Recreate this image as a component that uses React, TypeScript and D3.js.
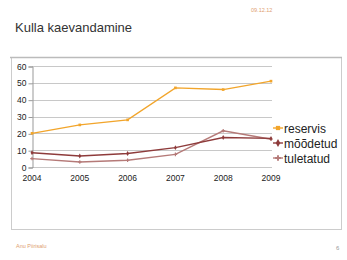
import React, { useEffect, useRef } from "react";
import * as d3 from "d3";

const years = ["2004", "2005", "2006", "2007", "2008", "2009"];
const reservis = [20, 25, 28, 47, 46, 51];
const moodetud = [8.5, 6.5, 8, 11.5, 17.5, 17];
const tuletatud = [5, 3, 4, 7.5, 21.5, 16.5];
const yTicks = [0, 10, 20, 30, 40, 50, 60];

const series = [
  { name: "reservis", values: reservis, color: "#F2A52B", symbol: d3.symbolSquare },
  { name: "mõõdetud", values: moodetud, color: "#8E3B3B", symbol: d3.symbolDiamond },
  { name: "tuletatud", values: tuletatud, color: "#B57A78", symbol: d3.symbolCross },
];

const App = () => {
  const svgRef = useRef<SVGSVGElement>(null);

  useEffect(() => {
    const svg = d3.select(svgRef.current);
    svg.selectAll("*").remove();

    const font = "'Liberation Sans', Arial, sans-serif";

    // slide header
    svg.append("text").attr("x", 251).attr("y", 12).attr("font-size", 5.5)
      .attr("fill", "#E0A070").attr("font-family", font).text("09.12.12");
    svg.append("text").attr("x", 15).attr("y", 32).attr("font-size", 13)
      .attr("fill", "#333").attr("font-family", font).text("Kulla kaevandamine");

    // chart frame
    svg.append("rect").attr("x", 11.5).attr("y", 57.5).attr("width", 330).attr("height", 172)
      .attr("fill", "#fff").attr("stroke", "#ccc").attr("stroke-width", 1);
    svg.append("line").attr("x1", 10).attr("x2", 342).attr("y1", 57.5).attr("y2", 57.5)
      .attr("stroke", "#bbb").attr("stroke-width", 1.5);

    const x = d3.scalePoint().domain(years).range([32, 271]);
    const y = d3.scaleLinear().domain([0, 60]).range([167, 66]);

    // gridlines
    svg.append("g").selectAll("line").data(yTicks).join("line")
      .attr("x1", 32).attr("x2", 272)
      .attr("y1", (d) => Math.round(y(d)) + 0.5).attr("y2", (d) => Math.round(y(d)) + 0.5)
      .attr("stroke", "#c8c8c8").attr("stroke-width", 1);

    // y axis
    const yAxis = svg.append("g").attr("transform", "translate(32.5,0.5)")
      .call(d3.axisLeft(y).tickValues(yTicks).tickSize(4).tickPadding(2));
    yAxis.select(".domain").attr("stroke", "#999");
    yAxis.selectAll(".tick line").attr("stroke", "#999");
    yAxis.selectAll("text").attr("font-size", 8.5).attr("fill", "#222").attr("font-family", font)
      .attr("dy", "0.3em");

    // x labels
    svg.append("g").selectAll("text").data(years).join("text")
      .attr("x", (d) => x(d)!).attr("y", 181).attr("text-anchor", "middle")
      .attr("font-size", 8.5).attr("fill", "#222").attr("font-family", font).text((d) => d);

    const line = d3.line<number>().x((_, i) => x(years[i])!).y((d) => y(d));

    series.slice().reverse().forEach((s) => {
      svg.append("path").datum(s.values).attr("d", line)
        .attr("fill", "none").attr("stroke", s.color).attr("stroke-width", 1.4);
      svg.append("g").selectAll("path").data(s.values).join("path")
        .attr("transform", (d, i) => `translate(${x(years[i])},${y(d)})`)
        .attr("d", d3.symbol().type(s.symbol).size(7)())
        .attr("fill", s.color);
    });

    // legend
    const legend = svg.append("g").selectAll("g").data(series).join("g")
      .attr("transform", (_, i) => `translate(273,${128 + i * 15})`);
    legend.append("line").attr("x1", 0).attr("x2", 10).attr("y1", 0).attr("y2", 0)
      .attr("stroke", (d) => d.color).attr("stroke-width", 1.4);
    legend.append("path").attr("transform", "translate(5,0)")
      .attr("d", (d) => d3.symbol().type(d.symbol).size(18)())
      .attr("fill", (d) => d.color);
    legend.append("text").attr("x", 11).attr("y", 4.5).attr("font-size", 12)
      .attr("fill", "#222").attr("font-family", font).text((d) => d.name);

    // footer
    svg.append("text").attr("x", 16).attr("y", 248).attr("font-size", 5.5)
      .attr("fill", "#E0A070").attr("font-family", font).text("Anu Piirisalu");
    svg.append("text").attr("x", 336).attr("y", 250).attr("font-size", 6)
      .attr("fill", "#999").attr("font-family", font).text("6");
  }, []);

  return (
    <div style={{ width: 347, height: 260, position: "fixed", left: 0, top: 0, background: "#fff" }}>
      <svg ref={svgRef} width={347} height={260}></svg>
    </div>
  );
};

export default App;
